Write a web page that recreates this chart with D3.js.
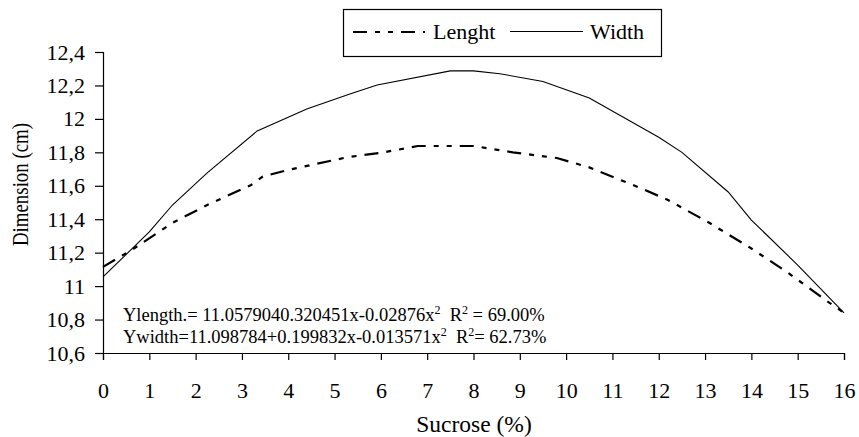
<!DOCTYPE html>
<html>
<head>
<meta charset="utf-8">
<script src="https://cdn.jsdelivr.net/npm/d3@7"></script>
<style>
  html, body { margin: 0; padding: 0; background: #fff; }
  svg { display: block; }
</style>
</head>
<body>
<svg id="chart" width="859" height="437"></svg>
<script>
// ---- data ----
const xTicks = [0,1,2,3,4,5,6,7,8,9,10,11,12,13,14,15,16];
const yTicks = [10.6,10.8,11,11.2,11.4,11.6,11.8,12,12.2,12.4];
const yTickLabels = ["10,6","10,8","11","11,2","11,4","11,6","11,8","12","12,2","12,4"];

const widthX = [0, 1, 1.5, 2.25, 3.33, 4.4, 5.33, 5.92, 7.5, 8, 8.57, 9.5, 10.5, 12, 12.5, 13.5, 14, 15, 16];
const widthY = [11.055, 11.324, 11.485, 11.677, 11.928, 12.059, 12.149, 12.203, 12.287, 12.287, 12.27, 12.224, 12.125, 11.89, 11.80, 11.563, 11.395, 11.126, 10.84];

const lengthX = [0, 0.65, 1.5, 2.25, 3.2, 3.45, 4, 5.3, 6, 6.8, 8, 8.85, 9.8, 10.5, 11.6, 12.2, 13.1, 14, 14.8, 15.6, 16];
const lengthY = [11.115, 11.222, 11.378, 11.485, 11.605, 11.655, 11.695, 11.772, 11.797, 11.838, 11.838, 11.80, 11.766, 11.71, 11.587, 11.515, 11.377, 11.225, 11.078, 10.917, 10.84];

const seriesNames = ["Lenght", "Width"];
const xTitle = "Sucrose (%)";
const yTitle = "Dimension (cm)";
const eq1 = ["Ylength.= 11.0579040.320451x-0.02876x", "2", "  R", "2", " = 69.00%"];
const eq2 = ["Ywidth=11.098784+0.199832x-0.013571x", "2", "  R", "2", "= 62.73%"];

const FONT = '"Liberation Serif"';

// ---- layout ----
const svg = d3.select("#chart");
const x = d3.scaleLinear().domain([0, 16]).range([103, 844]);
const y = d3.scaleLinear().domain([10.6, 12.4]).range([353, 52]);

const ink = "#000";

// x axis
const xAxis = d3.axisBottom(x).tickValues(xTicks).tickSize(7).tickPadding(22).tickFormat(d3.format("d"));
const gx = svg.append("g").attr("transform", `translate(0,${y(10.6)})`).call(xAxis);
gx.select(".domain").attr("stroke", ink).attr("stroke-width", 1.2);
gx.selectAll(".tick line").attr("stroke", ink).attr("stroke-width", 1.2);
gx.selectAll(".tick text").attr("fill", ink).style("font-size", "22px").style("font-family", FONT);

// y axis
const yAxis = d3.axisLeft(y).tickValues(yTicks).tickSize(8).tickPadding(10)
  .tickFormat((d, i) => yTickLabels[i]);
const gy = svg.append("g").attr("transform", `translate(${x(0)},0)`).call(yAxis);
gy.select(".domain").attr("stroke", ink).attr("stroke-width", 1.2);
gy.selectAll(".tick line").attr("stroke", ink).attr("stroke-width", 1.2);
gy.selectAll(".tick text").attr("fill", ink).style("font-size", "22px").style("font-family", FONT);

// axis titles
svg.append("text").attr("x", 474).attr("y", 432).attr("text-anchor", "middle")
  .style("font-size", "23.5px").style("font-family", FONT).attr("fill", ink).text(xTitle);
svg.append("text").attr("transform", "translate(27.5,184.5) rotate(-90)").attr("text-anchor", "middle")
  .attr("textLength", 123).attr("lengthAdjust", "spacingAndGlyphs")
  .style("font-size", "22.5px").style("font-family", FONT).attr("fill", ink).text(yTitle);

// lines
const line = d3.line().x(d => x(d[0])).y(d => y(d[1]));
const dashPattern = "14,8,5,8,5,8";

svg.append("path").datum(widthX.map((v, i) => [v, widthY[i]]))
  .attr("d", line).attr("fill", "none").attr("stroke", ink).attr("stroke-width", 1.1);

svg.append("path").datum(lengthX.map((v, i) => [v, lengthY[i]]))
  .attr("d", line).attr("fill", "none").attr("stroke", ink).attr("stroke-width", 2.2)
  .attr("stroke-dasharray", dashPattern);

// equations
function eq(parts, yy) {
  const t = svg.append("text").attr("x", 123).attr("y", yy).attr("fill", ink)
    .style("font-size", "18.5px").style("font-family", FONT).style("white-space", "pre");
  parts.forEach((p, i) => {
    const sup = (i === 1 || i === 3);
    t.append("tspan").style("font-size", sup ? "12px" : "18.5px").style("font-family", FONT)
      .attr("dy", sup ? -7 : (i > 0 ? 7 : 0)).text(p);
  });
}
eq(eq1, 321);
eq(eq2, 343);

// legend
svg.append("rect").attr("x", 343.5).attr("y", 9.5).attr("width", 318).attr("height", 47)
  .attr("fill", "#fff").attr("stroke", ink).attr("stroke-width", 1.2);
svg.append("line").attr("x1", 353).attr("x2", 425).attr("y1", 32).attr("y2", 32)
  .attr("stroke", ink).attr("stroke-width", 2.2).attr("stroke-dasharray", dashPattern);
svg.append("text").attr("x", 433).attr("y", 38.5).style("font-size", "22px").style("font-family", FONT)
  .attr("fill", ink).text(seriesNames[0]);
svg.append("line").attr("x1", 510).attr("x2", 583).attr("y1", 31.5).attr("y2", 31.5)
  .attr("stroke", ink).attr("stroke-width", 1.1);
svg.append("text").attr("x", 590).attr("y", 38.5).style("font-size", "22px").style("font-family", FONT)
  .attr("fill", ink).text(seriesNames[1]);
</script>
</body>
</html>
